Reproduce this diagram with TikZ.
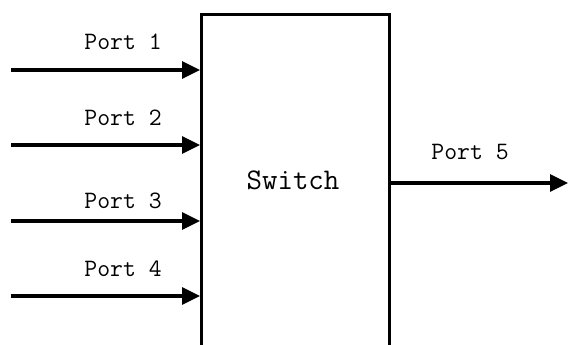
\documentclass[tikz,border=0pt]{standalone}
\usepackage{fontspec}
\usetikzlibrary{arrows.meta,positioning,calc}
\tikzset{
  switchbox/.style={rectangle,draw=black,line width=3pt,fill=white,
                    minimum width=188pt,minimum height=390pt,inner sep=0pt},
  arrow/.style={-{Triangle[length=18pt,width=17pt]},line width=3.2pt,black},
  portlabel/.style={font=\ttfamily\fontsize{25}{29}\selectfont,inner sep=0pt},
}

\begin{document}
\begin{tikzpicture}[x=1pt,y=-1pt]
        \useasboundingbox (0,0) rectangle (568,345);
        \clip (0,0) rectangle (568,345);
        \node[switchbox,anchor=north west] (switch) at (200,13) {};
        \node[font=\ttfamily\fontsize{30}{34}\selectfont,inner sep=0pt]
          (switchtext) at (293,180) {Switch};

        % input ports
        \foreach \i/\y/\ly in {1/70/42,2/145/118,3/221/201,4/296/269} {
          \coordinate (in\i) at (11,\y);
          \draw[arrow] (in\i) -- (in\i -| switch.west);
          \node[portlabel] (lab\i) at (123,\ly) {Port \i};
        }

        % output port
        \coordinate (out5) at (568,183);
        \draw[arrow] (out5 -| switch.east) -- (out5);
        \node[portlabel] (lab5) at (470,152) {Port 5};
      \end{tikzpicture}
\end{document}
